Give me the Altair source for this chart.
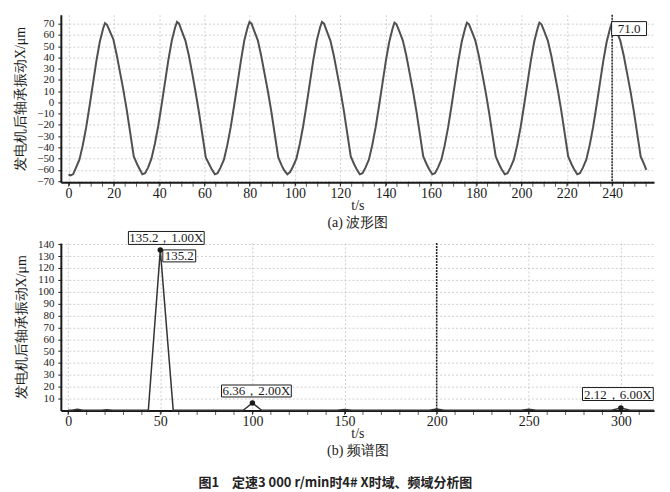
import altair as alt
import pandas as pd

# ---------------- data ----------------
wave_t = [
    0.0, 0.8, 2.0, 3.3, 4.8, 6.3, 7.8, 9.3, 10.8, 12.3, 13.8, 15.3, 16.1, 17.0, 18.3, 19.8, 21.3, 22.8, 24.3, 25.8, 27.3, 28.8, 30.3, 31.3,
    32.6, 33.8, 35.1, 36.6, 38.1, 39.6, 41.1, 42.6, 44.1, 45.6, 47.1, 47.9, 48.8, 50.1, 51.6, 53.1, 54.6, 56.1, 57.6, 59.1, 60.6, 62.1, 63.1,
    64.6, 65.8, 67.1, 68.6, 70.1, 71.6, 73.1, 74.6, 76.1, 77.6, 79.1, 79.9, 80.8, 82.1, 83.6, 85.1, 86.6, 88.1, 89.6, 91.1, 92.6, 94.1, 95.1,
    96.6, 97.8, 99.1, 100.6, 102.1, 103.6, 105.1, 106.6, 108.1, 109.6, 111.1, 111.9, 112.8, 114.1, 115.6, 117.1, 118.6, 120.1, 121.6, 123.1, 124.6, 126.1, 127.1,
    128.6, 129.8, 131.1, 132.6, 134.1, 135.6, 137.1, 138.6, 140.1, 141.6, 143.1, 143.9, 144.8, 146.1, 147.6, 149.1, 150.6, 152.1, 153.6, 155.1, 156.6, 158.1, 159.1,
    160.6, 161.8, 163.1, 164.6, 166.1, 167.6, 169.1, 170.6, 172.1, 173.6, 175.1, 175.9, 176.8, 178.1, 179.6, 181.1, 182.6, 184.1, 185.6, 187.1, 188.6, 190.1, 191.1,
    192.6, 193.8, 195.1, 196.6, 198.1, 199.6, 201.1, 202.6, 204.1, 205.6, 207.1, 207.9, 208.8, 210.1, 211.6, 213.1, 214.6, 216.1, 217.6, 219.1, 220.6, 222.1, 223.1,
    224.6, 225.8, 227.1, 228.6, 230.1, 231.6, 233.1, 234.6, 236.1, 237.6, 239.1, 239.9, 240.8, 242.1, 243.6, 245.1, 246.6, 248.1, 249.6, 251.1, 252.6, 254.1, 255.1,
]
wave_x = [
    -64, -65, -64, -58, -51, -38, -22, -3, 17, 37, 54, 66, 70.5, 69, 63, 56, 42, 26, 10, -8, -28, -48, -55, -59,
    -64, -63, -58, -50, -37, -21, -2, 18, 38, 55, 67, 71.5, 70, 63, 55, 42, 26, 9, -9, -29, -49, -55, -59,
    -64, -63, -58, -51, -38, -22, -3, 17, 37, 55, 67, 71.5, 70, 63, 55, 41, 25, 9, -9, -29, -49, -56, -60,
    -64, -62, -57, -50, -37, -21, -2, 18, 38, 55, 67, 71.5, 70, 63, 55, 42, 26, 10, -8, -28, -48, -55, -59,
    -64, -63, -58, -51, -38, -22, -3, 17, 37, 54, 66, 71, 69.5, 63, 55, 42, 26, 10, -8, -28, -48, -55, -59,
    -64, -63, -58, -51, -38, -22, -3, 17, 37, 54, 66, 71, 69.5, 63, 55, 42, 26, 10, -8, -28, -48, -55, -59,
    -64, -63, -58, -51, -38, -22, -3, 17, 37, 54, 66, 71, 69.5, 63, 55, 42, 26, 10, -8, -28, -48, -55, -59,
    -64, -63, -58, -51, -38, -22, -3, 17, 37, 54, 66, 71, 69.5, 63, 55, 42, 26, 10, -8, -28, -48, -55, -60,
]

spec_f = [0, 2, 5, 8, 18, 21, 24, 43.5, 50, 57, 95, 100, 105, 146, 150, 154, 196, 200, 204, 246, 250, 254, 295, 300, 305, 318]
spec_a = [0.3, 0.3, 1.0, 0.3, 0.2, 0.6, 0.2, 0.2, 135.2, 0.2, 0.2, 6.36, 0.2, 0.2, 0.8, 0.2, 0.2, 1.2, 0.2, 0.2, 1.0, 0.2, 0.2, 2.12, 0.2, 0.2]

peak_f = [50, 100, 300]
peak_a = [135.2, 6.36, 2.12]
peak_order = ["1.00X", "2.00X", "6.00X"]

cursor_top_t = 240
cursor_top_val = 71.0
cursor_bot_f = 200

top_x_ticks = [0, 20, 40, 60, 80, 100, 120, 140, 160, 180, 200, 220, 240]
top_y_ticks = [-70, -60, -50, -40, -30, -20, -10, 0, 10, 20, 30, 40, 50, 60, 70]
bot_x_ticks = [0, 50, 100, 150, 200, 250, 300]
bot_y_ticks = [10, 20, 30, 40, 50, 60, 70, 80, 90, 100, 110, 120, 130, 140]
top_minor = list(range(0, 256, 5))
bot_minor = list(range(0, 316, 10))

# ---------------- styling ----------------
W, H = 595, 168
SERIF = "Liberation Serif"
INK = "#1a1a1a"
MINUS = "replace(datum.label, '-', '\u2212')"

wave_df = pd.DataFrame({"t": wave_t, "x": wave_x})
spec_df = pd.DataFrame({"f": spec_f, "a": spec_a})
peaks_df = pd.DataFrame({"f": peak_f, "a": peak_a})

top_xs = alt.Scale(domain=[-3.4, 258.5], nice=False, zero=False)
top_ys = alt.Scale(domain=[-71, 78], nice=False, zero=False)
bot_xs = alt.Scale(domain=[-4, 318], nice=False, zero=False)
bot_ys = alt.Scale(domain=[0, 141], nice=False, zero=False)


def boxed(df, xf, yf, xs, ys, dx, dy, w, h):
    base = alt.Chart(df)
    rect = base.mark_rect(
        fill="white", stroke=INK, strokeWidth=1,
        xOffset=dx - w / 2, x2Offset=dx + w / 2,
        yOffset=dy - h / 2, y2Offset=dy + h / 2,
    ).encode(
        x=alt.X(f"{xf}:Q", scale=xs), x2=alt.X2(xf),
        y=alt.Y(f"{yf}:Q", scale=ys), y2=alt.Y2(yf),
    )
    txt = base.mark_text(
        dx=dx, dy=dy + 0.5, font=SERIF, fontSize=13, color=INK,
        align="center", baseline="middle",
    ).encode(
        x=alt.X(f"{xf}:Q", scale=xs), y=alt.Y(f"{yf}:Q", scale=ys),
        text="label:N",
    )
    return [rect, txt]


# ---------------- top: waveform ----------------
wave = alt.Chart(wave_df).mark_line(color="#505050", strokeWidth=2).encode(
    x=alt.X("t:Q", scale=top_xs,
            axis=alt.Axis(values=top_x_ticks, tickCount=40,
                          title=["t/s", "(a) 波形图"], format="d")),
    y=alt.Y("x:Q", scale=top_ys,
            axis=alt.Axis(values=top_y_ticks, tickCount=40, labelExpr=MINUS,
                          title="发电机后轴承振动X/μm", format="d")),
)
top_cursor_df = pd.DataFrame({"t": [cursor_top_t], "x": [cursor_top_val],
                              "label": [f"{cursor_top_val:.1f}"]})
top_rule = alt.Chart(top_cursor_df).mark_rule(
    color="#222", strokeWidth=1.5, strokeDash=[2, 1]
).encode(x=alt.X("t:Q", scale=top_xs))
top_minor_df = pd.DataFrame({"t": top_minor})
top_minor_ticks = alt.Chart(top_minor_df).mark_tick(
    color=INK, size=5, thickness=1
).encode(x=alt.X("t:Q", scale=top_xs), y=alt.value(H + 2))

top = alt.layer(
    wave, top_rule, top_minor_ticks,
    *boxed(top_cursor_df, "t", "x", top_xs, top_ys, 17, 6, 35, 14),
).properties(width=W, height=H)

# ---------------- bottom: spectrum ----------------
spec = alt.Chart(spec_df).mark_line(color="#333", strokeWidth=1.5).encode(
    x=alt.X("f:Q", scale=bot_xs,
            axis=alt.Axis(values=bot_x_ticks, tickCount=40,
                          title=["t/s", "(b) 频谱图"], format="d")),
    y=alt.Y("a:Q", scale=bot_ys,
            axis=alt.Axis(values=bot_y_ticks, tickCount=40,
                          title="发电机后轴承振动X/μm", format="d")),
)
dots = alt.Chart(peaks_df).mark_circle(color=INK, size=30, opacity=1).encode(
    x=alt.X("f:Q", scale=bot_xs), y=alt.Y("a:Q", scale=bot_ys)
)
bot_rule = alt.Chart(pd.DataFrame({"f": [cursor_bot_f]})).mark_rule(
    color="#222", strokeWidth=1.5, strokeDash=[2, 1]
).encode(x=alt.X("f:Q", scale=bot_xs))
bot_minor_df = pd.DataFrame({"f": bot_minor})
bot_minor_ticks = alt.Chart(bot_minor_df).mark_tick(
    color=INK, size=5, thickness=1
).encode(x=alt.X("f:Q", scale=bot_xs), y=alt.value(H + 2))


def lab_df(i, txt):
    return pd.DataFrame({"f": [peak_f[i]], "a": [peak_a[i]], "label": [txt]})


l1 = boxed(lab_df(0, f"{peak_a[0]:.1f}，{peak_order[0]}"), "f", "a", bot_xs, bot_ys, 6, -12, 76, 13)
l2 = boxed(lab_df(0, f"{peak_a[0]:.1f}"), "f", "a", bot_xs, bot_ys, 19, 6, 33, 12)
l3 = boxed(lab_df(1, f"{peak_a[1]:.2f}，{peak_order[1]}"), "f", "a", bot_xs, bot_ys, 4, -12, 70, 12)
l4 = boxed(lab_df(2, f"{peak_a[2]:.2f}，{peak_order[2]}"), "f", "a", bot_xs, bot_ys, -3, -14, 71, 13)

bottom = alt.layer(
    spec, bot_rule, bot_minor_ticks, dots, *l1, *l2, *l3, *l4,
).properties(width=W, height=H)

chart = alt.vconcat(top, bottom, spacing=61, bounds="flush").properties(
    padding={"left": 5, "top": 5, "right": 5, "bottom": 5},
    background="white",
    title=alt.TitleParams(
        "图1　定速3 000 r/min时4# X时域、频域分析图",
        orient="bottom", anchor="middle", font="Noto Sans CJK SC",
        fontSize=13, fontWeight="bold", color="#222", offset=20,
    ),
).configure_axis(
    domainColor=INK, domainWidth=2,
    grid=True, gridColor="#c4c4c4", gridDash=[2, 2], gridWidth=0.8,
    labelFont=SERIF, labelFontSize=14, labelColor=INK,
    labelOverlap=False, labelFlush=False,
    tickColor=INK, tickSize=3,
    titleFont=SERIF, titleFontSize=14, titleFontWeight="normal", titleColor=INK,
    titleLineHeight=17,
).configure_axisX(
    labelPadding=1, titlePadding=-2,
).configure_axisY(
    labelPadding=4, titlePadding=9, labelFontSize=11,
).configure_view(stroke=None)

chart.save("out.html", embed_options={"renderer": "svg", "actions": False})
